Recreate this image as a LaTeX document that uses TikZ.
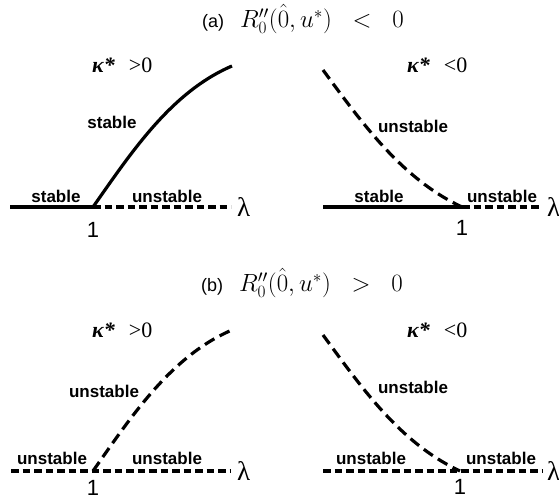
\documentclass[tikz,border=0pt]{standalone}
\usepackage[no-math]{fontspec}
\setmainfont{Liberation Sans}
\newfontfamily\timesfont{Liberation Serif}
\usetikzlibrary{positioning}

\begin{document}
\begin{tikzpicture}[x=1pt,y=-1pt,
  branch/.style={line width=3.2pt},
  axisdash/.style={line width=3.2pt,dash pattern=on 7.5pt off 4pt},
  curvedash/.style={line width=3.2pt,dash pattern=on 11pt off 6pt},
  tag/.style={font=\fontsize{17}{17}\selectfont\bfseries,inner sep=0pt},
  crit/.style={font=\fontsize{22}{22}\selectfont,inner sep=0pt},
  lam/.style={font=\fontsize{27}{27}\selectfont\timesfont,inner sep=0pt},
  kap/.style={font=\fontsize{22}{22}\selectfont\timesfont,inner sep=0pt,anchor=west},
  head/.style={font=\fontsize{18}{18}\selectfont,inner sep=0pt,anchor=west}]
  \useasboundingbox (0,0) rectangle (559,502);
  % ---- panel (a)
  \node[head] (aTitle) at (202,19) {(a)\hspace{16pt}{\fontsize{23}{23}\selectfont$R''_0(\hat{0},u^*)\;\;<\;\;0$}};
  \coordinate (aLs) at (10,207);
  \coordinate (aLj) at (93,207);
  \coordinate (aLe) at (231,207);
  \coordinate (aLt) at (232,66);
  \coordinate (aRs) at (323,207);
  \coordinate (aRj) at (462,207);
  \coordinate (aRe) at (542,207);
  \coordinate (aRt) at (323,70);
  % left: kappa* > 0
  \draw[branch] (aLs) -- (aLj);
  \draw[axisdash] (aLj) -- (aLe);
  \draw[branch] (aLj) .. controls (131,153) and (171,92) .. (aLt);
  \node[kap] (aLk) at (92,65) {{\bfseries\itshape κ*}\hspace{14pt}>0};
  \node[tag] (aLcl) at (112,122) {stable};
  \node[tag] (aLsl) at (56,196) {stable};
  \node[tag] (aLul) at (167,196) {unstable};
  \node[crit,below=15pt of aLj] (aL1) {1};
  \node[lam,right=6pt of aLe] (aLlam) {λ};
  % right: kappa* < 0
  \draw[branch] (aRs) -- (aRj);
  \draw[axisdash] (aRj) -- (aRe);
  \draw[curvedash] (aRt) .. controls (362,123) and (402,179) .. (aRj);
  \node[kap] (aRk) at (407,65) {{\bfseries\itshape κ*}\hspace{14pt}<0};
  \node[tag] (aRcl) at (413,126) {unstable};
  \node[tag] (aRsl) at (379,196) {stable};
  \node[tag] (aRul) at (502,196) {unstable};
  \node[crit,below=13pt of aRj] (aR1) {1};
  \node[lam,right=5pt of aRe] (aRlam) {λ};
  % ---- panel (b)
  \begin{scope}[shift={(0,264)}]
    \node[head] (bTitle) at (201,19) {(b)\hspace{16pt}{\fontsize{23}{23}\selectfont$R''_0(\hat{0},u^*)\;\;>\;\;0$}};
    \coordinate (bLs) at (11,207);
    \coordinate (bLj) at (93,207);
    \coordinate (bLe) at (231,207);
    \coordinate (bLt) at (232,66);
    \coordinate (bRs) at (323,207);
    \coordinate (bRj) at (460,207);
    \coordinate (bRe) at (543,207);
    \coordinate (bRt) at (323,71);
    % left: kappa* > 0
    \draw[axisdash] (bLs) -- (bLe);
    \draw[curvedash] (bLj) .. controls (131,153) and (171,92) .. (bLt);
    \node[kap] (bLk) at (92,66) {{\bfseries\itshape κ*}\hspace{14pt}>0};
    \node[tag] (bLcl) at (104,127) {unstable};
    \node[tag] (bLsl) at (52,194) {unstable};
    \node[tag] (bLul) at (167,194) {unstable};
    \node[crit,below=9pt of bLj] (bL1) {1};
    \node[lam,right=6pt of bLe] (bLlam) {λ};
    % right: kappa* < 0
    \draw[axisdash] (bRs) -- (bRe);
    \draw[curvedash] (bRt) .. controls (362,124) and (400,179) .. (bRj);
    \node[kap] (bRk) at (407,66) {{\bfseries\itshape κ*}\hspace{14pt}<0};
    \node[tag] (bRcl) at (413,123) {unstable};
    \node[tag] (bRsl) at (371,194) {unstable};
    \node[tag] (bRul) at (501,194) {unstable};
    \node[crit,below=8pt of bRj] (bR1) {1};
    \node[lam,right=4pt of bRe] (bRlam) {λ};
  \end{scope}
\end{tikzpicture}
\end{document}
